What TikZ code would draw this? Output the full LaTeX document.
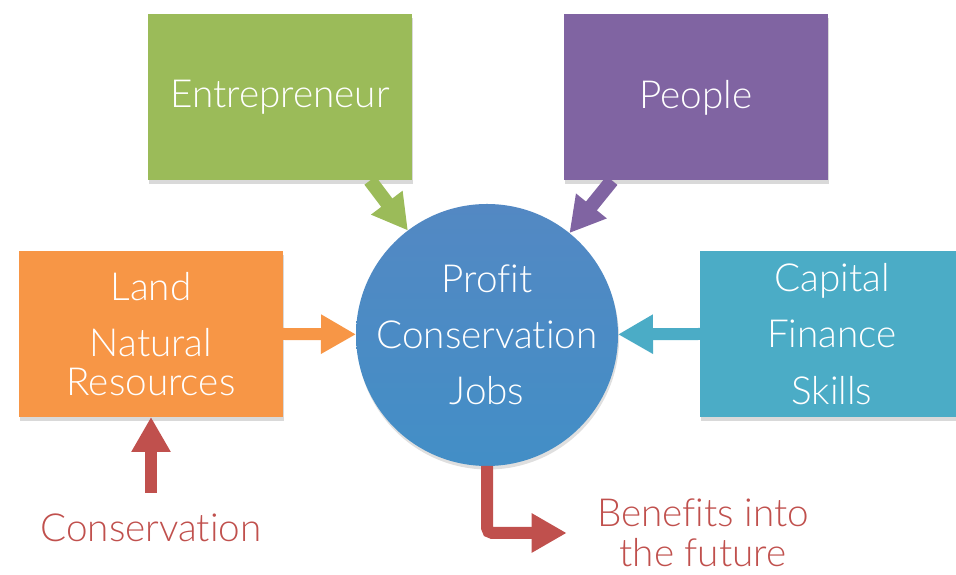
\documentclass[tikz,border=0pt]{standalone}
\usepackage{fontspec}
\setmainfont{Lato Light}[Ligatures=NoCommon, RawFeature=-rlig]
\usetikzlibrary{arrows.meta,shadows}

\definecolor{entgreen}{HTML}{9BBB59}
\definecolor{pplpurple}{HTML}{8064A2}
\definecolor{landorange}{HTML}{F79646}
\definecolor{capteal}{HTML}{4BACC6}
\definecolor{hubblue}{HTML}{4A82C0}
\definecolor{consred}{HTML}{C0504D}

\begin{document}
\begin{tikzpicture}[
    box/.style={rectangle, minimum width=5.28cm, minimum height=3.32cm,
        text=white, align=center, outer sep=0pt,
        font=\fontsize{22}{32}\selectfont,
        drop shadow={shadow xshift=0.6pt, shadow yshift=-2pt, opacity=0.3}},
    blockarrow/.style={line width=0.28cm,
        -{Triangle[width=0.74cm,length=0.7cm]}},
    redtext/.style={text=consred, align=center, inner sep=0pt,
        font=\fontsize{22}{23}\selectfont}
  ]
  \useasboundingbox (0,0) rectangle (19.12,11.5);

  % the four inputs
  \node[box, fill=entgreen] (ent) at (5.6,9.55) {Entrepreneur};
  \node[box, fill=pplpurple] (ppl) at (13.92,9.55) {People};
  \node[box, fill=landorange] (land) at (3.02,4.82) {Land\\Natural\\[-10pt]Resources};
  \node[box, fill=capteal] (cap) at (16.64,4.82) {Capital\\Finance\\Skills};

  % centre
  \node[circle, minimum size=5.12cm, outer sep=0pt, inner sep=0pt,
        top color=hubblue!95!white, bottom color=hubblue!90!cyan,
        text=white, align=center, font=\fontsize{22}{32}\selectfont,
        drop shadow={shadow xshift=0.6pt, shadow yshift=-2pt, opacity=0.25}]
        (hub) at (9.74,4.8) {Profit\\Conservation\\Jobs};

  \node[redtext] (cons) at (3.02,0.94) {Conservation};
  \node[redtext] (ben) at (14.06,0.84) {Benefits into\\the future};

  \draw[blockarrow, entgreen] ([xshift=-0.84cm]ent.south east) -- (hub);
  \draw[blockarrow, pplpurple] ([xshift=0.96cm]ppl.south west) -- (hub);
  \draw[blockarrow, landorange, line width=0.24cm] (land.east) -- (hub);
  \draw[blockarrow, capteal, line width=0.24cm] (cap.west) -- (hub);
  \draw[blockarrow, consred, line width=0.24cm] ([yshift=-1.52cm]land.south) -- (land.south);
  \draw[blockarrow, consred, line width=0.24cm, rounded corners=3pt]
    (hub.south) |- ([xshift=-0.6cm]ben.west);
\end{tikzpicture}
\end{document}
